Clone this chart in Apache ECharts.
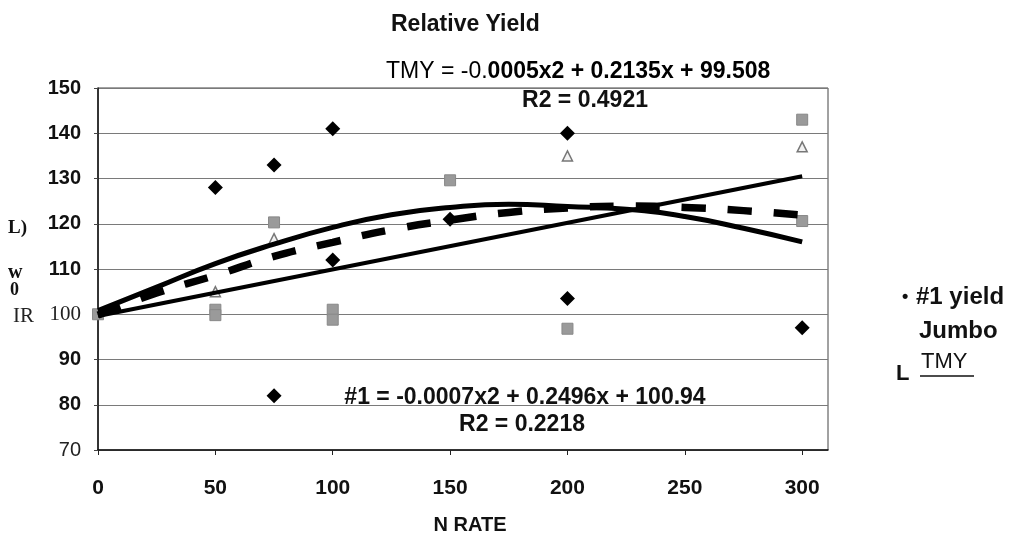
<!DOCTYPE html>
<html>
<head>
<meta charset="utf-8">
<script src="https://cdn.jsdelivr.net/npm/echarts@6/dist/echarts.min.js"></script>
<style>
html,body{margin:0;padding:0;background:#fff;}
#c{width:1014px;height:540px;}
</style>
</head>
<body>
<div id="c"></div>
<script>
// ---- data ----
const yield1 = [[50,128],[75,133],[75,82],[100,141],[100,112],[150,121],[200,140],[200,103.5],[300,97]];
const jumbo = [[0,100],[50,101],[50,99.8],[75,120.3],[100,101],[100,98.8],[150,129.6],[200,96.8],[300,143],[300,120.6]];
const tmy = [[50,105],[75,116.7],[200,135],[300,137]];
const trendYield1 = [[0,100.8],[25,106],[50,111.2],[75,115.5],[100,119.2],[125,122],[150,123.6],[175,124.3],[200,123.8],[225,123.2],[250,121.6],[275,119],[300,116]];
const trendTMY = [[0,99.8],[25,104.7],[50,108.6],[75,112.8],[100,115.9],[125,118.7],[150,120.8],[175,122.5],[200,123.5],[225,123.9],[250,123.6],[275,122.9],[300,121.9]];
const trendJumbo = [[0,99.6],[300,130.5]];
const legendNames = ['#1 yield','Jumbo','TMY'];
const eqTMY = ['TMY = -0.', '0005x2 + 0.2135x + 99.508'];
const r2TMY = 'R2 = 0.4921';
const eq1 = '#1 = -0.0007x2 + 0.2496x + 100.94';
const r2One = 'R2 = 0.2218';

const chart = echarts.init(document.getElementById('c'));
const SANS = 'Liberation Sans, Arial, sans-serif';
chart.setOption({
  animation: false,
  backgroundColor: '#fff',
  title: {
    text: 'Relative Yield', left: 386, top: 8,
    textStyle: {fontFamily: SANS, fontWeight: 'bold', fontSize: 23, color: '#111'}
  },
  grid: {left: 98, right: 186, top: 88, bottom: 88, show: true, borderColor: '#444', borderWidth: 1, backgroundColor: '#fff'},
  xAxis: {
    type: 'value', min: 0, max: 311, interval: 50,
    name: 'N RATE', nameLocation: 'middle', nameGap: 65,
    nameTextStyle: {fontFamily: SANS, fontWeight: 'bold', fontSize: 20, color: '#111', padding: [0,0,0,14]},
    axisLine: {show: true, onZero: false, lineStyle: {color: '#111', width: 1.5}},
    axisTick: {show: true, inside: false, length: 5, lineStyle: {color: '#222'}},
    axisLabel: {margin: 28, showMaxLabel: false, fontFamily: SANS, fontWeight: 'bold', fontSize: 21, color: '#111'},
    splitLine: {show: false}
  },
  yAxis: {
    type: 'value', min: 70, max: 150, interval: 10,
    axisLine: {show: true, onZero: false, lineStyle: {color: '#111', width: 1.5}},
    axisTick: {show: true, length: 4, lineStyle: {color: '#444'}},
    axisLabel: {
      margin: 17,
      formatter: function (v) { return v === 100 ? '{s|100}' : (v === 70 ? '{n|70}' : '{b|' + v + '}'); },
      rich: {
        s: {fontFamily: 'Liberation Serif, serif', fontSize: 21, color: '#222'},
        n: {fontFamily: SANS, fontSize: 20, color: '#222'},
        b: {fontFamily: SANS, fontWeight: 'bold', fontSize: 20, color: '#111'}
      }
    },
    splitLine: {show: true, lineStyle: {color: '#7a7a7a', width: 1}}
  },
  series: [
    {name: legendNames[0], type: 'scatter', data: yield1, symbol: 'diamond', symbolSize: 15, itemStyle: {color: '#000', opacity: 1}, z: 3},
    {name: legendNames[1], type: 'scatter', data: jumbo, symbol: 'rect', symbolSize: 11, itemStyle: {color: '#9a9a9a', borderColor: '#888', borderWidth: 1, opacity: 1}, z: 3},
    {name: legendNames[2], type: 'scatter', data: tmy, symbol: 'triangle', symbolSize: 10, itemStyle: {color: '#f2f2f2', borderColor: '#777', borderWidth: 1.5, opacity: 1}, z: 3},
    {name: 'trend1', type: 'line', data: trendYield1, smooth: true, showSymbol: false, lineStyle: {color: '#000', width: 5}, z: 4},
    {name: 'trendTMY', type: 'line', data: trendTMY, smooth: true, showSymbol: false, lineStyle: {color: '#000', width: 7.5, type: [24, 22]}, z: 4},
    {name: 'trendJumbo', type: 'line', data: trendJumbo, showSymbol: false, lineStyle: {color: '#000', width: 4}, z: 4}
  ],
  graphic: [
    {type: 'text', left: 386, top: 60, z: 10, style: {
      text: '{r|' + eqTMY[0] + '}{b|' + eqTMY[1] + '}',
      rich: {r: {fontFamily: SANS, fontSize: 23, color: '#222'}, b: {fontFamily: SANS, fontWeight: 'bold', fontSize: 23, color: '#111'}}
    }},
    {type: 'text', x: 585, y: 101, z: 10, style: {text: r2TMY, fontFamily: SANS, fontWeight: 'bold', fontSize: 23, fill: '#111', align: 'center', verticalAlign: 'middle'}},
    {type: 'text', x: 525, y: 398, z: 10, style: {text: eq1, fontFamily: SANS, fontWeight: 'bold', fontSize: 23, fill: '#111', align: 'center', verticalAlign: 'middle'}},
    {type: 'text', x: 522, y: 425, z: 10, style: {text: r2One, fontFamily: SANS, fontWeight: 'bold', fontSize: 23, fill: '#111', align: 'center', verticalAlign: 'middle'}},
    // legend (as in the scanned reference)
    {type: 'text', x: 902, y: 297, style: {text: '•', fontFamily: SANS, fontWeight: 'bold', fontSize: 18, fill: '#111', verticalAlign: 'middle'}},
    {type: 'text', x: 916, y: 297, style: {text: legendNames[0], fontFamily: SANS, fontWeight: 'bold', fontSize: 24, fill: '#111', verticalAlign: 'middle'}},
    {type: 'text', x: 919, y: 331, style: {text: legendNames[1], fontFamily: SANS, fontWeight: 'bold', fontSize: 24, fill: '#111', verticalAlign: 'middle'}},
    {type: 'text', x: 896, y: 374, style: {text: 'L', fontFamily: SANS, fontWeight: 'bold', fontSize: 22, fill: '#111', verticalAlign: 'middle'}},
    {type: 'text', x: 921, y: 362, style: {text: legendNames[2], fontFamily: SANS, fontSize: 22, fill: '#111', verticalAlign: 'middle'}},
    {type: 'line', shape: {x1: 920, y1: 376, x2: 974, y2: 376}, style: {stroke: '#111', lineWidth: 1.5}},
    // scan fragments of the rotated y-axis title
    {type: 'text', x: 8, y: 228, style: {text: 'L)', fontFamily: 'Liberation Serif, serif', fontWeight: 'bold', fontSize: 19, fill: '#111', verticalAlign: 'middle'}},
    {type: 'text', x: 8, y: 273, style: {text: 'w', fontFamily: 'Liberation Serif, serif', fontWeight: 'bold', fontSize: 20, fill: '#111', verticalAlign: 'middle'}},
    {type: 'text', x: 10, y: 290, style: {text: '0', fontFamily: 'Liberation Serif, serif', fontWeight: 'bold', fontSize: 18, fill: '#111', verticalAlign: 'middle'}},
    {type: 'text', x: 13, y: 316, style: {text: 'IR', fontFamily: 'Liberation Serif, serif', fontSize: 21, fill: '#222', verticalAlign: 'middle'}}
  ]
});
</script>
</body>
</html>
